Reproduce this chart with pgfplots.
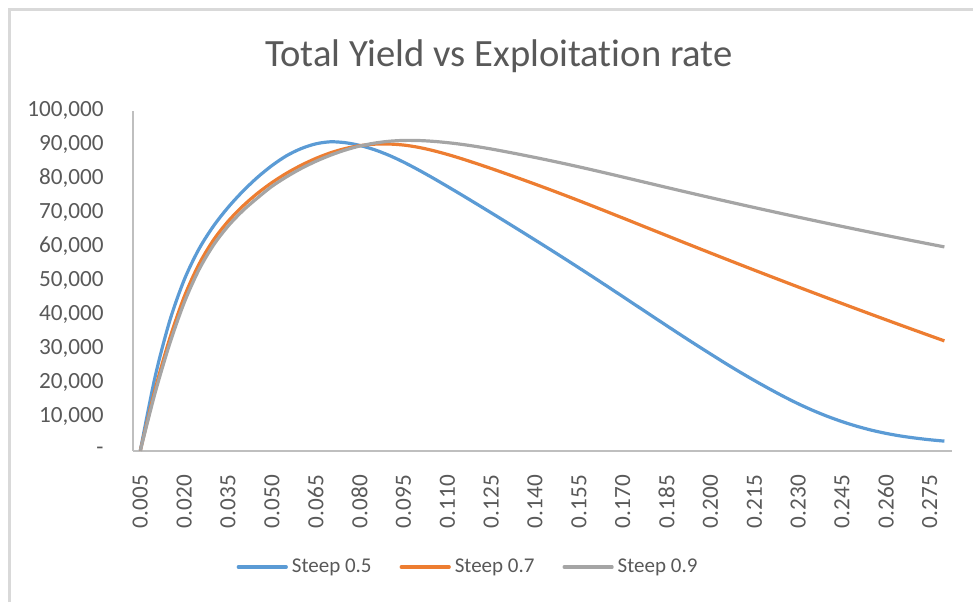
\documentclass[border=0pt]{standalone}
\usepackage{fontspec}
\setmainfont{Carlito}[Ligatures={NoCommon}]
\usepackage{pgfplots}
\usepackage{pgfplotstable}
\pgfplotsset{compat=1.18}

\definecolor{sblue}{HTML}{5B9BD5}
\definecolor{sorange}{HTML}{ED7D31}
\definecolor{sgray}{HTML}{A5A5A5}
\definecolor{txtgray}{HTML}{595959}
\definecolor{axgray}{HTML}{BFBFBF}
\definecolor{framegray}{HTML}{D9D9D9}

% exploitation rate, total yield for three steepness values
\pgfplotstableread{
rate   s05    s07    s09
0.005  0      0      0
0.010  21500  17800  16800
0.015  38000  32800  31300
0.020  50200  45200  43500
0.025  59200  54700  53100
0.030  66000  61900  60400
0.035  71500  67400  66000
0.040  76200  71850  70500
0.045  80300  75600  74250
0.050  83800  78800  77700
0.055  86700  81550  80500
0.060  88800  83900  82950
0.065  90200  85900  85050
0.070  90800  87550  86850
0.075  90550  88800  88350
0.080  89750  89650  89550
0.085  88500  90100  90400
0.090  86850  90150  90950
0.095  84850  89850  91200
0.100  82600  89200  91180
0.105  80200  88250  90950
0.110  77700  87100  90560
0.115  75150  85800  90040
0.120  72550  84400  89410
0.125  69930  82950  88690
0.130  67290  81450  87890
0.135  64630  79920  87060
0.140  61950  78360  86200
0.145  59250  76770  85310
0.150  56520  75150  84390
0.155  53760  73500  83440
0.160  50970  71820  82460
0.165  48150  70120  81460
0.170  45310  68410  80450
0.175  42460  66690  79430
0.180  39610  64970  78410
0.185  36770  63250  77390
0.190  33950  61530  76380
0.195  31170  59820  75380
0.200  28450  58120  74390
0.205  25750  56430  73410
0.210  23150  54750  72440
0.215  20650  53080  71480
0.220  18250  51420  70530
0.225  15950  49770  69590
0.230  13800  48130  68660
0.235  11850  46500  67740
0.240  10100  44880  66830
0.245  8550   43270  65930
0.250  7200   41670  65040
0.255  6050   40080  64160
0.260  5100   38500  63290
0.265  4330   36930  62430
0.270  3720   35370  61580
0.275  3220   33820  60740
0.280  2820   32280  59910
}\yielddata

\begin{document}
\begin{tikzpicture}
\path[use as bounding box] (0,0) rectangle (486.5pt,301pt);
% chart frame (left and top edges)
\draw[framegray, line width=1.5pt] (4.75pt,0) -- (4.75pt,296.25pt) -- (486.5pt,296.25pt);
\begin{axis}[
  at={(66.5pt,75.65pt)}, anchor=south west,
  scale only axis,
  width=409.35pt, height=170.1pt,
  xmin=0.0025, xmax=0.2825,
  ymin=0, ymax=100000,
  scaled y ticks=false,
  axis x line*=bottom, axis y line*=left,
  axis line style={axgray, line width=0.9pt, -},
  major tick length=0pt,
  xtick={0.005,0.020,0.035,0.050,0.065,0.080,0.095,0.110,0.125,0.140,0.155,0.170,0.185,0.200,0.215,0.230,0.245,0.260,0.275},
  xticklabels={0.005,0.020,0.035,0.050,0.065,0.080,0.095,0.110,0.125,0.140,0.155,0.170,0.185,0.200,0.215,0.230,0.245,0.260,0.275},
  xticklabel style={rotate=90, anchor=east, inner sep=0pt, font=\fontsize{11.6}{14}\selectfont, text=txtgray},
  xticklabel shift=12pt,
  ytick={0,10000,20000,30000,40000,50000,60000,70000,80000,90000,100000},
  yticklabels={{-\hspace{6pt}},{10,000},{20,000},{30,000},{40,000},{50,000},{60,000},{70,000},{80,000},{90,000},{100,000}},
  yticklabel style={anchor=east, inner sep=0pt, font=\fontsize{11.6}{14}\selectfont, text=txtgray},
  yticklabel shift=14.5pt,
  title={Total Yield vs Exploitation rate},
  every axis title/.style={at={(0.447,1.1287)}, anchor=base, font=\fontsize{19.3}{22}\selectfont, text=txtgray},
  legend columns=3,
  legend style={at={(0.4105,-0.342)}, anchor=center, draw=none, fill=none,
    font=\fontsize{10.5}{13}\selectfont, text=txtgray,
    /tikz/every even column/.append style={column sep=12pt}},
  legend cell align=left,
  legend image code/.code={\draw[#1, line cap=round] (0pt,0pt) -- (24pt,0pt);},
  clip=false,
]
\addplot[sblue, line width=1.6pt, smooth, tension=0.5] table[x=rate, y=s05] {\yielddata};
\addlegendentry{Steep 0.5}
\addplot[sorange, line width=1.6pt, smooth, tension=0.5] table[x=rate, y=s07] {\yielddata};
\addlegendentry{Steep 0.7}
\addplot[sgray, line width=1.6pt, smooth, tension=0.5] table[x=rate, y=s09] {\yielddata};
\addlegendentry{Steep 0.9}
\end{axis}
\end{tikzpicture}
\end{document}
